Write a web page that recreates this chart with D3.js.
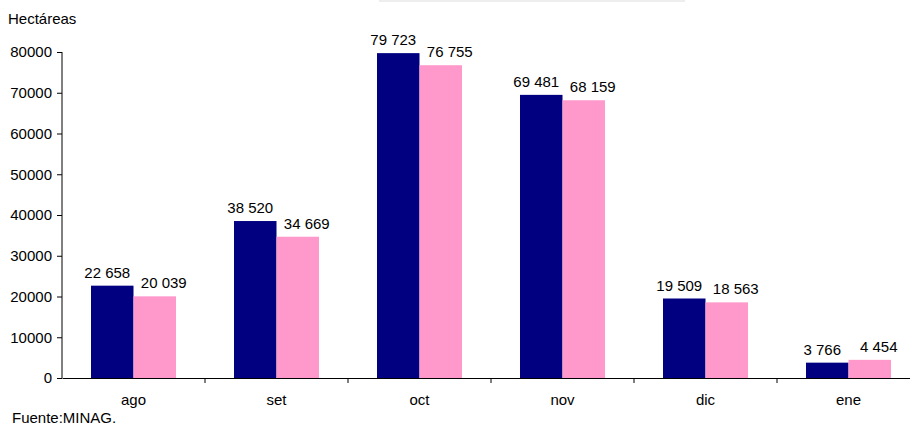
<!DOCTYPE html>
<html>
<head>
<meta charset="utf-8">
<script src="https://cdn.jsdelivr.net/npm/d3@7"></script>
<style>
  body { margin: 0; background: #fff; }
  svg { display: block; font-family: "Liberation Sans", Arial, sans-serif; }
</style>
</head>
<body>
<div class="chart"></div>
<script>
var months = ['ago', 'set', 'oct', 'nov', 'dic', 'ene'],
  serieA = [22658, 38520, 79723, 69481, 19509, 3766],
  serieB = [20039, 34669, 76755, 68159, 18563, 4454],
  yTicks = [0, 10000, 20000, 30000, 40000, 50000, 60000, 70000, 80000],
  colors = ['#000080', '#ff99cc'];

var width = 910, height = 426,
  fontSize = '15px';

var svg = d3.select('.chart')
  .append('svg')
    .attr('width', width)
    .attr('height', height);

// faint box cut off at the top
svg.append('rect')
  .attr('x', 379).attr('y', 0)
  .attr('width', 306).attr('height', 2)
  .style('fill', '#eeeeee');

var x = d3.scaleBand()
  .domain(months)
  .range([62, 920]);

var yScale = d3.scaleLinear()
  .domain([0, 80000])
  .range([378, 52]);

var barW = 42.5;

var fmt = function(v) {
  return d3.format(',')(v).replace(/,/g, ' ');
};

var series = [serieA, serieB];

series.forEach(function(vals, s) {
  var g = svg.append('g');
  g.selectAll('rect')
    .data(vals)
    .enter()
    .append('rect')
      .attr('x', (d, i) => x(months[i]) + x.bandwidth() / 2 - barW + s * barW)
      .attr('y', d => yScale(d))
      .attr('width', barW)
      .attr('height', d => yScale(0) - yScale(d))
      .style('fill', colors[s]);

  g.selectAll('text')
    .data(vals)
    .enter()
    .append('text')
      .attr('x', (d, i) => x(months[i]) + x.bandwidth() / 2 - barW / 2 + s * barW + (s ? 9 : -5))
      .attr('y', d => yScale(d) - 8)
      .style('text-anchor', 'middle')
      .style('font-size', fontSize)
      .style('fill', '#000')
      .text(d => fmt(d));
});

// y axis
var yAxis = d3.axisLeft(yScale)
  .tickValues(yTicks)
  .tickSize(5)
  .tickFormat(d3.format('d'));

var gY = svg.append('g')
  .attr('transform', 'translate(62, 0)')
  .call(yAxis);
gY.select('.domain').attr('d', 'M0,52V378').style('stroke', '#000');
gY.selectAll('.tick line').style('stroke', '#000');
gY.selectAll('.tick text')
  .attr('x', -10)
  .style('font-size', fontSize)
  .style('font-family', '"Liberation Sans", Arial, sans-serif')
  .style('fill', '#000');

// x axis
var xAxis = d3.axisBottom(x)
  .tickSize(0)
  .tickSizeOuter(0);

var gX = svg.append('g')
  .attr('transform', 'translate(0, 378)')
  .call(xAxis);
gX.select('.domain').style('stroke', '#000');
gX.selectAll('.tick text')
  .attr('y', 16)
  .style('font-size', fontSize)
  .style('font-family', '"Liberation Sans", Arial, sans-serif')
  .style('fill', '#000');

// category separators
gX.selectAll('.sep')
  .data(months.slice(1))
  .enter()
  .append('line')
    .attr('class', 'sep')
    .attr('x1', d => x(d)).attr('x2', d => x(d))
    .attr('y1', 0).attr('y2', 5)
    .style('stroke', '#000');

svg.append('text')
  .attr('x', 8).attr('y', 24)
  .style('font-size', fontSize)
  .text('Hectáreas');

svg.append('text')
  .attr('x', 12).attr('y', 423)
  .style('font-size', fontSize)
  .text('Fuente:MINAG.');
</script>
</body>
</html>
